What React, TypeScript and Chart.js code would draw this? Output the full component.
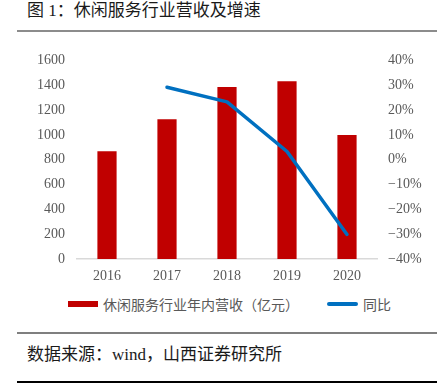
import React, { useEffect, useRef } from "react";
import { Chart, registerables } from "chart.js";

Chart.register(...registerables);

const categories = ["2016", "2017", "2018", "2019", "2020"];
const revenue = [868, 1125, 1385, 1433, 1000];
const growth = [null, 29.2, 23.3, 3.3, -30.1];
const leftTicks = [0, 200, 400, 600, 800, 1000, 1200, 1400, 1600];
const rightTicks = [-40, -30, -20, -10, 0, 10, 20, 30, 40];
const revenueLabel = "休闲服务行业年内营收（亿元）";
const growthLabel = "同比";
const titleText = "图 1：休闲服务行业营收及增速";
const sourceText = "数据来源：wind，山西证券研究所";

const RED = "#c00000";
const BLUE = "#0070c0";
const GRAY = "#595959";
const tickFont = { family: "'Liberation Serif', 'Times New Roman', serif", size: 14 };

export default function App() {
  const ref = useRef<HTMLCanvasElement | null>(null);

  useEffect(() => {
    if (!ref.current) return;
    const chart = new Chart(ref.current, {
      data: {
        labels: categories,
        datasets: [
          {
            type: "line",
            label: growthLabel,
            data: growth,
            yAxisID: "y1",
            borderColor: BLUE,
            backgroundColor: BLUE,
            borderWidth: 3.5,
            pointRadius: 0,
            borderCapStyle: "round",
            borderJoinStyle: "round",
            tension: 0,
            order: 0,
          },
          {
            type: "bar",
            label: revenueLabel,
            data: revenue,
            yAxisID: "y",
            backgroundColor: RED,
            categoryPercentage: 1,
            barPercentage: 0.32,
            order: 1,
          },
        ],
      } as any,
      options: {
        responsive: false,
        animation: false,
        layout: { padding: { top: 16, left: 0, right: 0, bottom: 0 } },
        plugins: { legend: { display: false }, tooltip: { enabled: false } },
        scales: {
          x: {
            grid: { display: false, drawTicks: false },
            border: { display: true, color: "#d9d9d9", width: 1.5 },
            ticks: { color: GRAY, font: tickFont, padding: 9 },
            afterFit: (s: any) => { s.height = 31; },
          },
          y: {
            position: "left",
            min: 0,
            max: 1600,
            grid: { display: false, drawTicks: false },
            border: { display: false },
            afterBuildTicks: (s: any) => { s.ticks = leftTicks.map((v) => ({ value: v })); },
            ticks: { color: GRAY, font: tickFont, padding: 12, callback: (v: any) => String(v) },
            afterFit: (s: any) => { s.width = 77; },
          },
          y1: {
            position: "right",
            min: -40,
            max: 40,
            grid: { display: false, drawTicks: false },
            border: { display: false },
            afterBuildTicks: (s: any) => { s.ticks = rightTicks.map((v) => ({ value: v })); },
            ticks: {
              color: GRAY,
              font: tickFont,
              padding: 11,
              callback: (v: any) => (Number(v) < 0 ? "\u2212" + Math.abs(Number(v)) : String(v)) + "%",
            },
            afterFit: (s: any) => { s.width = 69; },
          },
        },
      } as any,
    });
    return () => chart.destroy();
  }, []);

  const cjk = "'Noto Sans CJK SC', 'Liberation Serif', sans-serif";
  const mixed = "'Liberation Serif', 'Noto Sans CJK SC', serif";

  return (
    <div style={{ position: "absolute", left: 0, top: 0, width: 446, height: 383, background: "#fff", overflow: "hidden" }}>
      <div style={{ position: "absolute", left: 27, top: 0, height: 22, lineHeight: "22px", fontSize: 17, fontFamily: mixed, color: "#1a1a1a", whiteSpace: "nowrap" }}>
        {titleText}
      </div>
      <div style={{ position: "absolute", left: 17, top: 30, width: 420, height: 2, background: "#8c8c8c" }} />
      <canvas ref={ref} width={446} height={250} style={{ position: "absolute", left: 0, top: 40, width: 446, height: 250 }} />
      <div style={{ position: "absolute", left: 68, top: 301, width: 30, height: 6, background: RED }} />
      <div style={{ position: "absolute", left: 103, top: 294, height: 20, lineHeight: "20px", fontSize: 14, fontFamily: cjk, color: GRAY, whiteSpace: "nowrap" }}>
        {revenueLabel}
      </div>
      <div style={{ position: "absolute", left: 327, top: 302, width: 31, height: 4, borderRadius: 2, background: BLUE }} />
      <div style={{ position: "absolute", left: 363, top: 294, height: 20, lineHeight: "20px", fontSize: 14, fontFamily: cjk, color: GRAY, whiteSpace: "nowrap" }}>
        {growthLabel}
      </div>
      <div style={{ position: "absolute", left: 17, top: 332, width: 420, height: 1.5, background: "#7f7f7f" }} />
      <div style={{ position: "absolute", left: 27, top: 344, height: 22, lineHeight: "22px", fontSize: 17, fontFamily: mixed, color: "#1a1a1a", whiteSpace: "nowrap" }}>
        {sourceText}
      </div>
      <div style={{ position: "absolute", left: 17, top: 381, width: 420, height: 1.5, background: "#000" }} />
    </div>
  );
}
